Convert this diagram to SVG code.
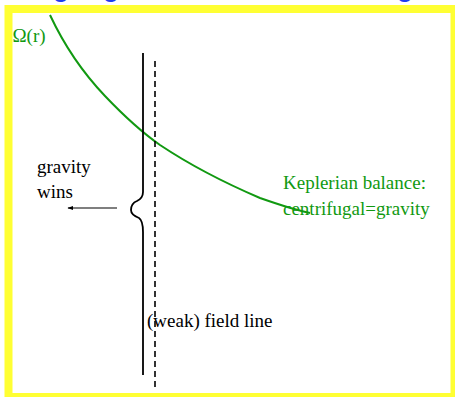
<svg xmlns="http://www.w3.org/2000/svg" width="455" height="397" viewBox="0 0 455 397">
<style>
.lbl{font-family:"Liberation Serif","Times New Roman",serif;font-size:19px}
.grn{fill:#119911}
.blk{fill:#000}
.ttl{font-family:"Liberation Sans",Arial,sans-serif;font-size:26px;font-weight:bold;fill:#1f3cf0;text-anchor:middle}
</style>
<defs>
<marker id="ah" viewBox="0 0 10 10" refX="9" refY="5" markerWidth="6" markerHeight="6" orient="auto-start-reverse" markerUnits="userSpaceOnUse">
<path d="M0,1.5 L10,5 L0,8.5 z" fill="#000"/>
</marker>
</defs>
<rect width="455" height="397" fill="#fff"/>
<g id="title-fragments">
<text class="ttl" x="61" y="-3">g</text>
<text class="ttl" x="111" y="-3">g</text>
<text class="ttl" x="405" y="-3">g</text>
</g>
<rect id="frame" x="8.5" y="9" width="446" height="388" fill="none" stroke="#ffff33" stroke-width="8"/>
<g id="connectors">
<path id="omega-curve" d="M50,15 C65,47 85,75 105,96 C125,117 140,131 160,145 C190,165 225,183 260,198 C280,205 295,210 310,213" fill="none" stroke="#119911" stroke-width="2"/>
<path id="field-line" d="M143,53 L143,192 C143,197 141,199 137,201 C132,203 131,206 131,210 C131,214 134,216 139,218 C142,220 143,225 143,232 L143,375" fill="none" stroke="#000" stroke-width="1.8"/>
<line id="dashed-line" x1="155" y1="61" x2="155" y2="388" stroke="#000" stroke-width="1.6" stroke-dasharray="6 4"/>
<line id="arrow" x1="117" y1="208" x2="68" y2="208" stroke="#000" stroke-width="1.2" marker-end="url(#ah)"/>
</g>
<g id="label-omega"><text class="lbl grn" x="12.5" y="42">Ω(r)</text></g>
<g id="label-gravity"><text class="lbl blk" x="37" y="173">gravity</text><text class="lbl blk" x="37" y="198">wins</text></g>
<g id="label-kepler"><text class="lbl grn" x="283" y="189">Keplerian balance:</text><text class="lbl grn" x="283" y="215">centrifugal=gravity</text></g>
<g id="label-field"><text class="lbl blk" x="147" y="327">(weak) field line</text></g>
</svg>
